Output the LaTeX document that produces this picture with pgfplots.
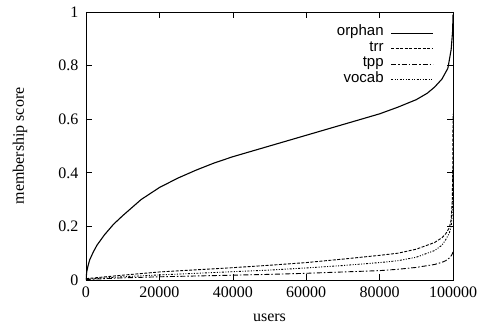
\documentclass[border=0pt]{standalone}
\usepackage{fontspec}
\setmainfont{Liberation Serif}
\newfontfamily\legfont{Liberation Sans}
\usepackage{pgfplots}
\pgfplotsset{compat=1.18}
\begin{document}
\begin{tikzpicture}
\begin{axis}[
  scale only axis,
  width=367pt, height=268pt,
  xmin=0, xmax=100000, ymin=0, ymax=1,
  xtick={0,20000,40000,60000,80000,100000},
  xticklabels={0,20000,40000,60000,80000,100000},
  ytick={0,0.2,0.4,0.6,0.8,1},
  yticklabels={0,0.2,0.4,0.6,0.8,1},
  scaled x ticks=false,
  tick label style={font=\fontsize{16}{18}\selectfont},
  xticklabel style={yshift=-3pt},
  yticklabel style={xshift=-4pt},
  label style={font=\fontsize{16}{18}\selectfont},
  xlabel={users}, ylabel={membership score},
  xlabel style={at={(axis description cs:0.5,-0.14)}, anchor=center},
  ylabel style={at={(axis description cs:-0.18,0.5)}, anchor=center},
  tick align=inside, major tick length=6pt,
  axis line style={line width=0.8pt},
  every tick/.style={line width=0.6pt, black},
  legend cell align=right,
  legend plot pos=right,
  legend image code/.code={\draw[#1] (0pt,0pt) -- (42pt,0pt);},
  legend style={at={(0.948,0.951)}, anchor=north east, draw=none, fill=none,
    font=\legfont\fontsize{15}{15}\selectfont, inner sep=0pt, row sep=0pt, column sep=5pt,
    nodes={inner ysep=0pt, text height=10.5pt, text depth=5pt}},
]
\addplot[black, line width=1.1pt] coordinates {
(0,0) (200,0.03) (500,0.05) (1000,0.075) (2000,0.105) (3000,0.13) (5000,0.168)
(7500,0.208) (10000,0.24) (15000,0.30) (20000,0.345) (25000,0.38) (30000,0.41)
(35000,0.437) (40000,0.46) (45000,0.48) (50000,0.50) (55000,0.52) (60000,0.54)
(65000,0.56) (70000,0.58) (75000,0.60) (80000,0.62) (85000,0.645) (90000,0.673)
(93000,0.697) (95000,0.72) (97000,0.75) (98600,0.79) (99500,0.86) (99900,0.93) (100000,0.99)};
\addlegendentry{orphan}
\addplot[black, line width=0.9pt, dash pattern=on 3pt off 1.5pt] coordinates {
(0,0.005) (10000,0.018) (20000,0.03) (30000,0.038) (40000,0.046) (50000,0.055)
(60000,0.065) (70000,0.078) (80000,0.092) (85000,0.10) (90000,0.115) (95000,0.14)
(97000,0.158) (98000,0.172) (99000,0.195) (99500,0.225) (99800,0.30) (99950,0.45) (100000,0.62)};
\addlegendentry{trr}
\addplot[black, line width=0.9pt, dash pattern=on 5pt off 2pt on 1.5pt off 2pt] coordinates {
(0,0.002) (10000,0.008) (20000,0.012) (30000,0.015) (40000,0.018) (50000,0.021)
(60000,0.025) (70000,0.03) (80000,0.035) (85000,0.04) (90000,0.047) (95000,0.058)
(97000,0.066) (98000,0.072) (99000,0.082) (99500,0.09) (99900,0.1) (100000,0.11)};
\addlegendentry{tpp}
\addplot[black, line width=0.9pt, dash pattern=on 2pt off 1.5pt on 1pt off 1.5pt on 1pt off 1.5pt] coordinates {
(0,0.003) (10000,0.012) (20000,0.019) (30000,0.025) (40000,0.031) (50000,0.037)
(60000,0.045) (70000,0.054) (80000,0.065) (85000,0.072) (90000,0.085) (95000,0.11)
(97000,0.13) (98000,0.15) (99000,0.175) (99500,0.2) (99800,0.25) (99950,0.35) (100000,0.42)};
\addlegendentry{vocab}
\end{axis}
\pgfresetboundingbox
\useasboundingbox ([xshift=-86pt,yshift=-46pt]current axis.south west) rectangle ([xshift=28pt,yshift=12pt]current axis.north east);
\end{tikzpicture}
\end{document}
